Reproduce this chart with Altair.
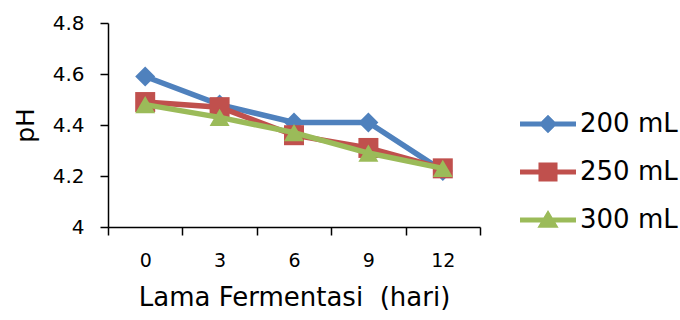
import altair as alt
import pandas as pd

days = [0, 3, 6, 9, 12]
series = ["200 mL", "250 mL", "300 mL"]
ph_200 = [4.59, 4.48, 4.41, 4.41, 4.22]
ph_250 = [4.49, 4.47, 4.36, 4.31, 4.23]
ph_300 = [4.48, 4.43, 4.37, 4.29, 4.23]
colors = ["#4F81BD", "#C0504D", "#9BBB59"]
shapes = ["diamond", "square", "triangle-up"]
y_ticks = [4, 4.2, 4.4, 4.6, 4.8]

rows = []
for name, vals in zip(series, [ph_200, ph_250, ph_300]):
    for d, v in zip(days, vals):
        rows.append({"Hari": d, "pH": v, "Seri": name})
df = pd.DataFrame(rows)

# legend symbols: line segment + marker as one filled path
bar = "M-1,-0.09L1,-0.09L1,0.09L-1,0.09Z"
leg_paths = [
    bar + "M0,-0.33L0.33,0L0,0.33L-0.33,0Z",
    bar + "M-0.34,-0.34L0.34,-0.34L0.34,0.34L-0.34,0.34Z",
    bar + "M0,-0.36L0.38,0.28L-0.38,0.28Z",
]

FONT = "DejaVu Sans"

x_enc = alt.X(
    "Hari:O",
    scale=alt.Scale(type="band", domain=days, paddingInner=0, paddingOuter=0),
    axis=alt.Axis(
        title="Lama Fermentasi\u00a0 (hari)", labelAngle=0, tickBand="extent",
        tickSize=8, labelPadding=16, labelFont=FONT, labelFontSize=19,
        titleFont=FONT, titleFontSize=26, titleFontWeight="normal",
        titlePadding=14, domainColor="black", tickColor="black",
        domainWidth=1.5, tickWidth=1.5, labelColor="black", titleColor="black",
    ),
)
y_enc = alt.Y(
    "pH:Q",
    scale=alt.Scale(domain=[4, 4.8], nice=False, zero=False),
    axis=alt.Axis(
        title="pH", values=y_ticks, format=".1~f", grid=False, tickSize=8,
        labelPadding=16, labelFont=FONT, labelFontSize=20, titleFont=FONT,
        titleFontSize=25, titleFontWeight="normal", titlePadding=14,
        domainColor="black", tickColor="black", domainWidth=1.5,
        tickWidth=1.5, labelColor="black", titleColor="black",
    ),
)
color_plain = alt.Color(
    "Seri:N", scale=alt.Scale(domain=series, range=colors), legend=None
)
shape_plain = alt.Shape(
    "Seri:N", scale=alt.Scale(domain=series, range=shapes), legend=None
)

base = alt.Chart(df)
layers = []
for name in series:
    sub = base.transform_filter(alt.datum.Seri == name)
    layers.append(
        sub.mark_line(strokeWidth=5.5).encode(x=x_enc, y=y_enc, color=color_plain)
    )
    layers.append(
        sub.mark_point(filled=True, size=400, opacity=1).encode(
            x=x_enc, y=y_enc, color=color_plain, shape=shape_plain
        )
    )

leg = alt.Legend(
    title=None, orient="none", legendX=412, legendY=86, padding=0,
    symbolSize=3136, clipHeight=30, rowPadding=18, labelOffset=4,
    labelFont=FONT, labelFontSize=26, labelColor="black",
    symbolStrokeWidth=0, symbolOpacity=1,
)
legend_layer = (
    base.transform_filter("false")
    .mark_point(filled=True, size=3136, opacity=1)
    .encode(
        x=x_enc, y=y_enc,
        color=alt.Color("Seri:N", scale=alt.Scale(domain=series, range=colors), legend=leg),
        shape=alt.Shape("Seri:N", scale=alt.Scale(domain=series, range=leg_paths), legend=leg),
    )
)
layers.append(legend_layer)

chart = (
    alt.layer(*layers)
    .resolve_scale(shape="independent", color="independent")
    .properties(
        width=372, height=204,
        autosize=alt.AutoSizeParams(type="none"),
        padding={"left": 108, "top": 23, "right": 200, "bottom": 93},
        background="white",
    )
    .configure_view(stroke=None)
)

chart.save("out.html", embed_options={"renderer": "svg", "actions": False})
